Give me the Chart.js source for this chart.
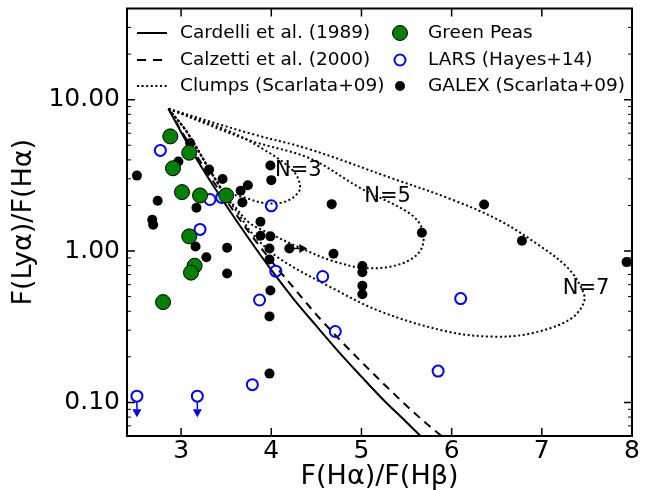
<!DOCTYPE html>
<html>
<head>
<meta charset="utf-8">
<script src="https://cdn.jsdelivr.net/npm/chart.js@4.4.0/dist/chart.umd.min.js"></script>
<style>
  html, body { margin: 0; padding: 0; background: #fff; }
  #wrap { width: 652px; height: 490px; }
</style>
</head>
<body>
<div id="wrap"><canvas id="plot" width="652" height="490"></canvas></div>
<script>
// axis ticks
const xTicks = [3, 4, 5, 6, 7, 8];
const yTicks = [0.1, 1, 10];
const yMinorTicks = [0.07, 0.08, 0.09, 0.2, 0.3, 0.4, 0.5, 0.6, 0.7, 0.8, 0.9,
                     2, 3, 4, 5, 6, 7, 8, 9, 20, 30];

// dust curves
const cardelliX = [2.86, 3.0, 3.25, 3.5, 3.75, 4.0, 4.25, 4.5, 4.75, 5.0, 5.25, 5.5, 5.72];
const cardelliY = [8.7, 6.1, 3.4, 2.0, 1.21, 0.75, 0.48, 0.32, 0.215, 0.148, 0.103, 0.074, 0.055];
const calzettiX = [2.86, 3.0, 3.25, 3.5, 3.75, 4.0, 4.25, 4.5, 4.75, 5.0, 5.25, 5.5, 5.75, 5.97];
const calzettiY = [8.7, 6.25, 3.6, 2.16, 1.34, 0.86, 0.57, 0.38, 0.263, 0.185, 0.132, 0.095, 0.070, 0.055];

// clump models (Scarlata+09)
const clump3X = [2.86, 3.51, 3.88, 4.24, 4.32, 4.24, 4.10, 3.91, 3.71, 3.46, 3.40, 3.32, 3.065, 2.86];
const clump3Y = [8.7, 6.27, 4.83, 3.40, 2.62, 2.25, 2.08, 2.08, 2.25, 2.5, 2.85, 3.4, 6.1, 8.7];
const clump5X = [2.86, 3.76, 4.43, 4.98, 5.54, 5.68, 5.65, 5.43, 5.06, 4.68, 4.32, 3.99, 3.76, 3.60, 3.49, 3.40, 3.32, 3.065, 2.86];
const clump5Y = [8.7, 5.38, 4.09, 2.62, 1.76, 1.36, 1.0, 0.82, 0.77, 0.86, 1.05, 1.30, 1.53, 1.95, 2.35, 2.85, 3.4, 6.1, 8.7];
const clump7X = [2.86, 3.76, 4.43, 5.32, 6.01, 6.54, 6.98, 7.28, 7.43, 7.47, 7.31, 6.87, 6.46, 5.95, 5.21, 4.68, 4.10, 3.82, 3.65, 3.49, 3.40, 3.32, 3.065, 2.86];
const clump7Y = [8.7, 5.99, 4.69, 3.05, 2.18, 1.58, 1.08, 0.783, 0.585, 0.466, 0.353, 0.285, 0.272, 0.294, 0.399, 0.568, 0.885, 1.24, 1.71, 2.35, 2.85, 3.4, 6.1, 8.7];
const clumpLabels = ['N=3', 'N=5', 'N=7'];
const clumpLabelX = [4.30, 5.29, 7.49];
const clumpLabelY = [3.40, 2.29, 0.568];

// Green Peas
const gpX = [2.88, 3.09, 2.91, 3.01, 3.21, 3.50, 3.09, 3.15, 3.11, 2.80];
const gpY = [5.72, 4.46, 3.52, 2.45, 2.33, 2.33, 1.25, 0.80, 0.72, 0.46];

// LARS (Hayes+14), last two are upper limits
const larsX = [2.77, 3.32, 3.45, 3.21, 4.00, 4.05, 3.87, 4.57, 4.71, 6.10, 5.85, 3.79];
const larsY = [4.62, 2.19, 2.26, 1.39, 1.99, 0.736, 0.475, 0.679, 0.294, 0.485, 0.161, 0.131];
const larsLimX = [2.51, 3.18];
const larsLimY = [0.110, 0.110];

// GALEX (Scarlata+09), Halpha/Hbeta lower limits listed separately
const galexX = [2.51, 3.10, 2.97, 2.74, 2.68, 2.69, 3.31, 3.46, 3.66, 3.74, 3.68, 3.17, 3.99, 4.00,
                3.16, 3.28, 3.51, 3.51, 3.88, 3.88, 3.99, 3.98, 3.98, 3.99, 3.98, 3.98,
                4.67, 4.69, 5.01, 5.01, 5.01, 5.01, 5.67, 6.36, 6.78, 7.94];
const galexY = [3.15, 5.16, 3.90, 2.15, 1.61, 1.49, 3.45, 2.99, 2.50, 2.72, 2.09, 1.93, 3.67, 2.94,
                1.07, 0.91, 1.05, 0.71, 1.56, 1.26, 1.25, 1.04, 0.88, 0.548, 0.370, 0.155,
                2.04, 0.96, 0.795, 0.725, 0.590, 0.518, 1.32, 2.03, 1.17, 0.845];
const galexLimX = [4.20];
const galexLimY = [1.04];

function pts(xs, ys) {
    return xs.map(function (x, i) { return {x: x, y: ys[i]}; });
}

Chart.defaults.font.family = "'DejaVu Sans', sans-serif";
Chart.defaults.color = '#000';

function arrow(ctx, x0, y0, x1, y1, color) {
    const ang = Math.atan2(y1 - y0, x1 - x0);
    const head = 8, half = 4.5;
    const bx = x1 - head * Math.cos(ang), by = y1 - head * Math.sin(ang);
    ctx.strokeStyle = color;
    ctx.fillStyle = color;
    ctx.lineWidth = 1.5;
    ctx.setLineDash([]);
    ctx.beginPath(); ctx.moveTo(x0, y0); ctx.lineTo(bx, by); ctx.stroke();
    ctx.beginPath();
    ctx.moveTo(x1, y1);
    ctx.lineTo(bx - half * Math.sin(ang), by + half * Math.cos(ang));
    ctx.lineTo(bx + half * Math.sin(ang), by - half * Math.cos(ang));
    ctx.closePath();
    ctx.fill();
}

const decorations = {
    id: 'decorations',
    afterDatasetsDraw: function (chart) {
        const ctx = chart.ctx, xs = chart.scales.x, ys = chart.scales.y;
        ctx.save();
        // upper limits on LARS
        larsLimX.forEach(function (x, i) {
            const px = xs.getPixelForValue(x), py = ys.getPixelForValue(larsLimY[i]);
            arrow(ctx, px, py + 6, px, py + 21, '#0000ff');
        });
        // lower limit on GALEX
        galexLimX.forEach(function (x, i) {
            const px = xs.getPixelForValue(x), py = ys.getPixelForValue(galexLimY[i]);
            arrow(ctx, px + 4, py, px + 18, py, '#000');
        });
        // N= labels
        ctx.fillStyle = '#000';
        ctx.font = "21px 'DejaVu Sans'";
        ctx.textAlign = 'center';
        ctx.textBaseline = 'middle';
        clumpLabels.forEach(function (t, i) {
            ctx.fillText(t, xs.getPixelForValue(clumpLabelX[i]), ys.getPixelForValue(clumpLabelY[i]));
        });
        ctx.restore();
    },
    afterDraw: function (chart) {
        const ctx = chart.ctx, a = chart.chartArea, xs = chart.scales.x, ys = chart.scales.y;
        ctx.save();
        ctx.strokeStyle = '#000';
        ctx.setLineDash([]);

        // inward ticks
        ctx.lineWidth = 1.5;
        xTicks.forEach(function (v) {
            const px = xs.getPixelForValue(v);
            if (px <= a.left + 1 || px >= a.right - 1) return;
            ctx.beginPath();
            ctx.moveTo(px, a.bottom); ctx.lineTo(px, a.bottom - 8);
            ctx.moveTo(px, a.top); ctx.lineTo(px, a.top + 8);
            ctx.stroke();
        });
        yTicks.forEach(function (v) {
            const py = ys.getPixelForValue(v);
            ctx.beginPath();
            ctx.moveTo(a.left, py); ctx.lineTo(a.left + 8, py);
            ctx.moveTo(a.right, py); ctx.lineTo(a.right - 8, py);
            ctx.stroke();
        });
        ctx.lineWidth = 1;
        yMinorTicks.forEach(function (v) {
            const py = ys.getPixelForValue(v);
            ctx.beginPath();
            ctx.moveTo(a.left, py); ctx.lineTo(a.left + 4, py);
            ctx.moveTo(a.right, py); ctx.lineTo(a.right - 4, py);
            ctx.stroke();
        });

        // frame
        ctx.lineWidth = 2;
        ctx.strokeRect(a.left, a.top, a.right - a.left, a.bottom - a.top);

        // legend, two columns
        const rows = [33, 60, 86];
        const col1 = 137, col2 = 400;
        ctx.font = "18.5px 'DejaVu Sans'";
        ctx.textAlign = 'left';
        ctx.textBaseline = 'middle';
        ctx.fillStyle = '#000';

        ctx.lineWidth = 2;
        ctx.beginPath(); ctx.moveTo(col1, rows[0]); ctx.lineTo(col1 + 30, rows[0]); ctx.stroke();
        ctx.setLineDash([9, 7]);
        ctx.beginPath(); ctx.moveTo(col1, rows[1]); ctx.lineTo(col1 + 26, rows[1]); ctx.stroke();
        ctx.setLineDash([2, 2.6]);
        ctx.beginPath(); ctx.moveTo(col1, rows[2]); ctx.lineTo(col1 + 30, rows[2]); ctx.stroke();
        ctx.setLineDash([]);
        ctx.fillText('Cardelli et al. (1989)', 180, rows[0]);
        ctx.fillText('Calzetti et al. (2000)', 180, rows[1]);
        ctx.fillText('Clumps (Scarlata+09)', 180, rows[2]);

        ctx.lineWidth = 1;
        ctx.fillStyle = '#008000';
        ctx.beginPath(); ctx.arc(col2, rows[0], 7.5, 0, Math.PI * 2); ctx.fill(); ctx.stroke();
        ctx.strokeStyle = '#0000ff';
        ctx.lineWidth = 2;
        ctx.beginPath(); ctx.arc(col2, rows[1], 5.5, 0, Math.PI * 2); ctx.stroke();
        ctx.fillStyle = '#000';
        ctx.beginPath(); ctx.arc(col2, rows[2], 5, 0, Math.PI * 2); ctx.fill();
        ctx.fillText('Green Peas', 428, rows[0]);
        ctx.fillText('LARS (Hayes+14)', 428, rows[1]);
        ctx.fillText('GALEX (Scarlata+09)', 428, rows[2]);
        ctx.restore();
    }
};

function curve(data, dash, order, tension) {
    return {
        data: data,
        showLine: true,
        borderColor: '#000',
        borderWidth: 2,
        borderDash: dash,
        pointRadius: 0,
        fill: false,
        tension: tension,
        order: order
    };
}

const cardelli = curve(pts(cardelliX, cardelliY), [], 6, 0);
cardelli.cubicInterpolationMode = 'monotone';
const calzetti = curve(pts(calzettiX, calzettiY), [8, 6], 7, 0);
calzetti.cubicInterpolationMode = 'monotone';
const dots = [2, 2.6];

new Chart(document.getElementById('plot'), {
    type: 'scatter',
    data: {
        datasets: [
            {
                data: pts(gpX, gpY),
                backgroundColor: '#008000',
                borderColor: '#000',
                borderWidth: 1,
                pointRadius: 7.5,
                order: 0
            },
            {
                data: pts(larsX.concat(larsLimX), larsY.concat(larsLimY)),
                backgroundColor: 'rgba(0,0,0,0)',
                borderColor: '#0000ff',
                borderWidth: 2,
                pointRadius: 5.5,
                order: 1
            },
            {
                data: pts(galexX.concat(galexLimX), galexY.concat(galexLimY)),
                backgroundColor: '#000',
                borderWidth: 0,
                pointRadius: 5,
                order: 2
            },
            curve(pts(clump3X, clump3Y), dots, 3, 0.35),
            curve(pts(clump5X, clump5Y), dots, 4, 0.35),
            curve(pts(clump7X, clump7Y), dots, 5, 0.35),
            cardelli,
            calzetti
        ]
    },
    options: {
        responsive: false,
        animation: false,
        devicePixelRatio: 1,
        layout: { padding: { top: 7, right: 20, left: 0, bottom: 0 } },
        plugins: {
            legend: { display: false },
            tooltip: { enabled: false }
        },
        scales: {
            x: {
                type: 'linear',
                min: 2.4,
                max: 8,
                afterBuildTicks: function (s) { s.ticks = xTicks.map(function (v) { return {value: v}; }); },
                afterFit: function (s) { s.height = 54; s.paddingLeft = 0; s.paddingRight = 0; },
                grid: { display: false, drawTicks: false },
                border: { display: false },
                ticks: { font: { size: 25 }, padding: 0, autoSkip: false, maxRotation: 0,
                         callback: function (v) { return String(v); } },
                title: { display: true, text: 'F(Hα)/F(Hβ)', font: { size: 27, lineHeight: 1 },
                         padding: { top: 0, bottom: 0 } }
            },
            y: {
                type: 'logarithmic',
                min: 0.06,
                max: 40,
                afterBuildTicks: function (s) { s.ticks = yTicks.map(function (v) { return {value: v}; }); },
                afterFit: function (s) { s.width = 127; s.paddingTop = 0; s.paddingBottom = 0; },
                grid: { display: false, drawTicks: false },
                border: { display: false },
                ticks: { font: { size: 25 }, padding: 7, autoSkip: false,
                         callback: function (v) { return Number(v).toFixed(2); } },
                title: { display: true, text: 'F(Lyα)/F(Hα)', font: { size: 27, lineHeight: 1 },
                         padding: { top: 10, bottom: 0 } }
            }
        }
    },
    plugins: [decorations]
});
</script>
</body>
</html>
